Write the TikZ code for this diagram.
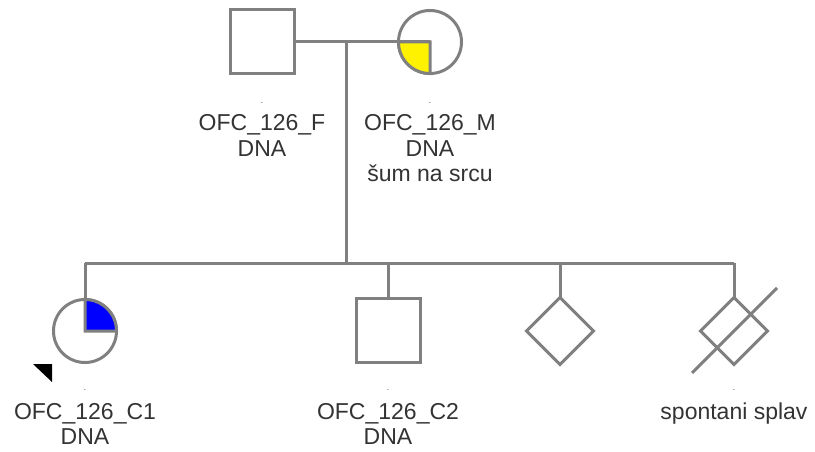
\documentclass[tikz,border=0pt]{standalone}
\usepackage{fontspec}
\setmainfont{Liberation Sans}
\usepackage{xcolor}
\usetikzlibrary{shapes.geometric}

\tikzset{
    pedline/.style={draw=gray, line width=3pt},
    male/.style={pedline, rectangle, minimum size=64pt, inner sep=0pt, outer sep=0pt},
    female/.style={pedline, circle, minimum size=63pt, inner sep=0pt, outer sep=0pt},
    unknown/.style={pedline, diamond, minimum width=67pt, minimum height=67pt, inner sep=0pt, outer sep=0pt},
    pedtext/.style={text=black!80, align=center, inner sep=0pt, anchor=north,
        font=\fontsize{23}{25.5}\selectfont},
    peddot/.style={text=black!80, inner sep=0pt, anchor=base, font=\fontsize{8}{8}\selectfont}
}

\begin{document}
\begin{tikzpicture}[x=1pt, y=-1pt]
    \useasboundingbox (0,0) rectangle (815,452);

    % parents
    \node[male] (f) at (262,42) {};
    \node[female] (m) at (430,42) {};
    \coordinate (mid) at (346,42);
    \draw[pedline] (f.east) -- (m.center);
    \filldraw[pedline, fill=yellow] (m.center) -- (m.south)
        arc[start angle=270, end angle=180, radius=31.5pt] -- cycle;

    % sibship
    \coordinate (sibmid) at (346,263);
    \coordinate (sibl) at (85,263);
    \coordinate (sibr) at (734,263);
    \draw[pedline] (mid) -- (sibmid);
    \draw[pedline] (sibl) -- (sibr);

    % children
    \node[female] (c1) at (85,331) {};
    \node[male] (c2) at (388,330) {};
    \node[unknown] (d) at (560,331) {};
    \node[unknown] (s) at (734,331) {};
    \draw[pedline] (sibl) -- (c1.center);
    \draw[pedline] (c2.north |- sibl) -- (c2.north);
    \draw[pedline] (d.north |- sibl) -- (d.north);
    \draw[pedline] (sibr) -- (s.north);
    \filldraw[pedline, fill=blue] (c1.center) -- (c1.north)
        arc[start angle=90, end angle=0, radius=31.5pt] -- cycle;
    \draw[pedline] (s.center) ++(-42,42) -- ++(85,-85);
    \fill[black] (33,364) -- (52,364) -- (52,382) -- cycle;

    % labels
    \node[peddot] (fdot) at (262,103) {.};
    \node[peddot] (mdot) at (430,103) {.};
    \node[pedtext] (flab) at (262,114.5) {OFC\_126\_F\\DNA};
    \node[pedtext] (mlab) at (430,114.5) {OFC\_126\_M\\DNA\\šum na srcu};
    \node[peddot] (c1dot) at (85,390) {.};
    \node[peddot] (c2dot) at (388,390) {.};
    \node[peddot] (sdot) at (734,390) {.};
    \node[pedtext] (c1lab) at (85,403) {OFC\_126\_C1\\DNA};
    \node[pedtext] (c2lab) at (388,403) {OFC\_126\_C2\\DNA};
    \node[pedtext] (slab) at (734,403) {spontani splav};
\end{tikzpicture}
\end{document}
